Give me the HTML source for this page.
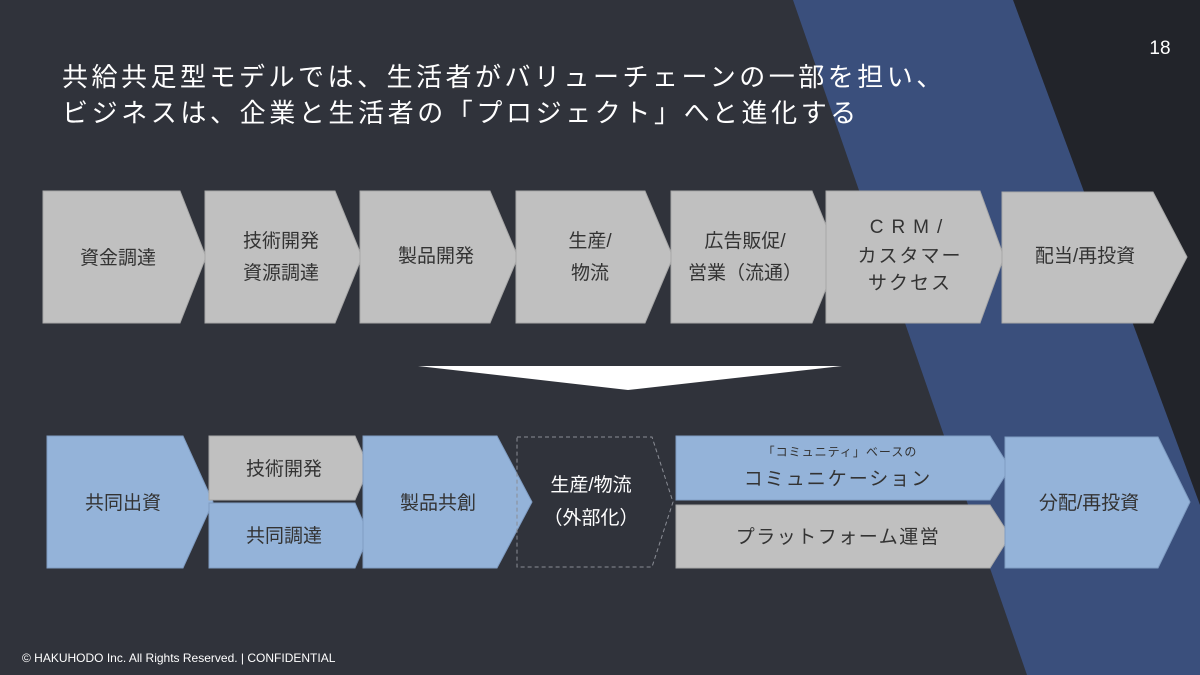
<!DOCTYPE html>
<html><head><meta charset="utf-8"><style>
html,body{margin:0;padding:0;background:#30333b;}
svg{display:block;}
text{font-family:"Liberation Sans","Noto Sans CJK JP",sans-serif;}
</style></head><body>
<svg width="1200" height="675" viewBox="0 0 1200 675" xmlns="http://www.w3.org/2000/svg">
<rect width="1200" height="675" fill="#30333b"/>
<polygon points="1013,0 1200,0 1200,505" fill="#22242a"/>
<polygon points="793,0 1013,0 1200,505 1200,675 1027,675" fill="#3a4f7c"/>
<text x="1160" y="54" fill="#fff" font-size="19" text-anchor="middle">18</text>
<text x="62" y="86" fill="#fff" font-size="26" letter-spacing="3.5">共給共足型モデルでは、生活者がバリューチェーンの一部を担い、</text>
<text x="62" y="122" fill="#fff" font-size="26" letter-spacing="3.6">ビジネスは、企業と生活者の「プロジェクト」へと進化する</text>

<g fill="#c0c0c0" stroke="#a8a8a8" stroke-width="1">
<polygon points="43,191 180,191 206,257 180,323 43,323"/>
<polygon points="205,191 335,191 362,257 335,323 205,323"/>
<polygon points="360,191 490,191 518,257 490,323 360,323"/>
<polygon points="516,191 645,191 673,257 645,323 516,323"/>
<polygon points="671,191 812,191 839,257 812,323 671,323"/>
<polygon points="826,191 980,191 1004,257 980,323 826,323"/>
<polygon points="1002,192 1153,192 1187,257 1153,323 1002,323"/>
</g>
<g fill="#333" font-size="19" text-anchor="middle">
<text x="118" y="264">資金調達</text>
<text x="281" y="247">技術開発</text><text x="281" y="279">資源調達</text>
<text x="436" y="262">製品開発</text>
<text x="590" y="247">生産/</text><text x="590" y="279">物流</text>
<text x="745" y="247">広告販促/</text><text x="745" y="279">営業（流通）</text>
<text x="910" y="233" letter-spacing="8">CRM/</text><text x="910" y="262" letter-spacing="2">カスタマー</text><text x="910" y="289" letter-spacing="2">サクセス</text>
<text x="1085" y="262">配当/再投資</text>
</g>

<polygon points="418,366 842,366 628,390" fill="#fff"/>

<polygon points="47,436 183,436 213,502 183,568 47,568" fill="#94b3d9" stroke="#7f9cc2"/>
<polygon points="209,436 355,436 369,468 355,500 209,500" fill="#c0c0c0" stroke="#a8a8a8"/>
<polygon points="209,503 355,503 369,535 355,568 209,568" fill="#94b3d9" stroke="#7f9cc2"/>
<polygon points="363,436 497,436 532,502 497,568 363,568" fill="#94b3d9" stroke="#7f9cc2"/>
<polygon points="517,437 652,437 673,502 652,567 517,567" fill="none" stroke="#8a8d95" stroke-dasharray="4,3"/>
<polygon points="676,436 990,436 1010,468 990,500 676,500" fill="#94b3d9" stroke="#7f9cc2"/>
<polygon points="676,505 990,505 1010,536 990,568 676,568" fill="#c0c0c0" stroke="#a8a8a8"/>
<polygon points="1005,437 1158,437 1190,502 1158,568 1005,568" fill="#94b3d9" stroke="#7f9cc2"/>

<g fill="#333" font-size="19" text-anchor="middle">
<text x="123" y="509">共同出資</text>
<text x="284" y="475">技術開発</text>
<text x="284" y="542">共同調達</text>
<text x="438" y="509">製品共創</text>
<text x="591" y="491" fill="#fff">生産/物流</text>
<text x="591" y="524" fill="#fff">（外部化）</text>
<text x="840" y="456" font-size="12" letter-spacing="1">「コミュニティ」ベースの</text>
<text x="838" y="485" letter-spacing="2">コミュニケーション</text>
<text x="838" y="543" letter-spacing="1.5">プラットフォーム運営</text>
<text x="1089" y="509">分配/再投資</text>
</g>

<text x="22" y="662" fill="#fff" font-size="12">© HAKUHODO  Inc. All  Rights  Reserved. | CONFIDENTIAL</text>
</svg>
</body></html>
